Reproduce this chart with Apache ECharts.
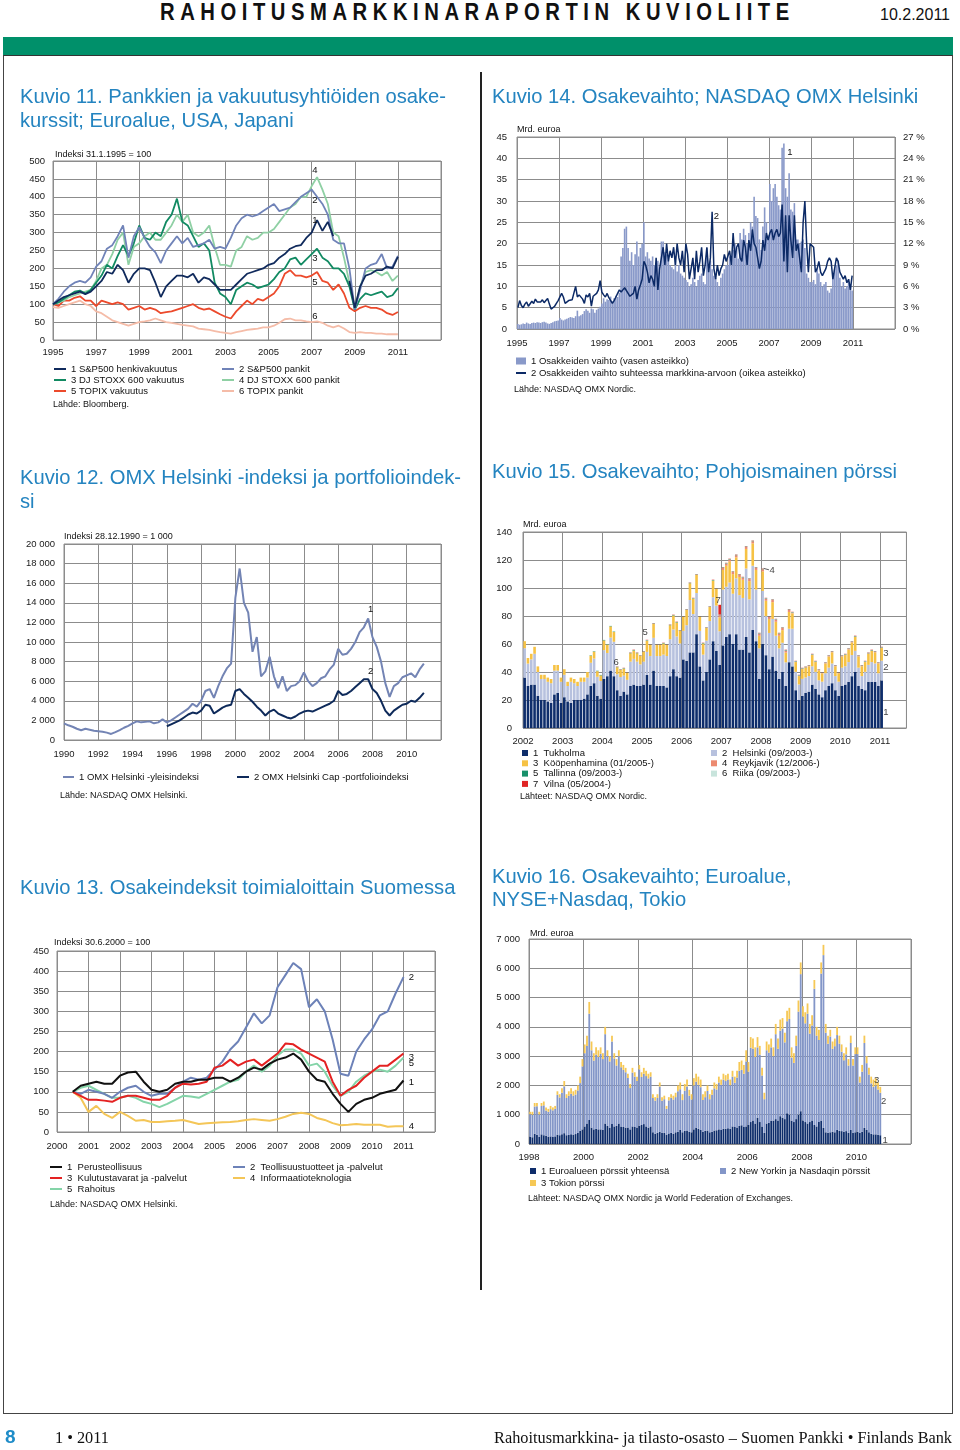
<!DOCTYPE html>
<html>
<head>
<meta charset="utf-8">
<script src="https://cdn.jsdelivr.net/npm/echarts/dist/echarts.min.js"></script>
<style>
html,body{margin:0;padding:0;background:#fff;}
#page{position:relative;width:960px;height:1450px;overflow:hidden;font-family:'Liberation Sans',Arial,sans-serif;}
#chart{position:absolute;left:0;top:0;width:960px;height:1450px;}
.abs{position:absolute;white-space:nowrap;}
.title{position:absolute;white-space:nowrap;color:#2484c0;font-size:20.2px;line-height:23.5px;}
.hdr{left:160px;top:-1px;font-weight:bold;font-size:23px;letter-spacing:6.3px;line-height:26px;color:#111;transform:scaleX(0.88);transform-origin:0 0;}
.date{left:880px;top:6px;font-size:16px;line-height:18px;color:#111;}
.green{left:3px;top:37px;width:950px;height:18px;background:#00906a;}
.frame{left:3px;top:55px;width:948px;height:1357px;border:1.5px solid #444;border-top:1.5px solid #333;}
.divider{left:480px;top:72px;width:1.5px;height:1218px;background:#222;}
.pg{left:5px;top:1426px;font-size:19px;font-weight:bold;color:#1e8cc8;line-height:22px;}
.foot{font-family:'Liberation Serif','Times New Roman',serif;font-size:16.3px;line-height:20px;color:#111;top:1428px;}
</style>
</head>
<body>
<div id="page">
  <div class="abs green"></div>
  <div class="abs frame"></div>
  <div class="abs divider"></div>
  <div class="abs hdr">RAHOITUSMARKKINARAPORTIN KUVIOLIITE</div>
  <div class="abs date">10.2.2011</div>
  <div id="chart"></div>
  <div class="title" style="left:20px;top:85px;">Kuvio 11. Pankkien ja vakuutusyhtiöiden osake-<br>kurssit; Euroalue, USA, Japani</div>
  <div class="title" style="left:492px;top:85px;">Kuvio 14. Osakevaihto; NASDAQ OMX Helsinki</div>
  <div class="title" style="left:20px;top:465px;line-height:24px;">Kuvio 12. OMX Helsinki -indeksi ja portfolioindek-<br>si</div>
  <div class="title" style="left:492px;top:460px;">Kuvio 15. Osakevaihto; Pohjoismainen pörssi</div>
  <div class="title" style="left:20px;top:876px;">Kuvio 13. Osakeindeksit toimialoittain Suomessa</div>
  <div class="title" style="left:492px;top:865px;line-height:23px;">Kuvio 16. Osakevaihto; Euroalue,<br>NYSE+Nasdaq, Tokio</div>
  <div class="abs pg">8</div>
  <div class="abs foot" style="left:55px;">1 • 2011</div>
  <div class="abs foot" style="right:8px;">Rahoitusmarkkina- ja tilasto-osasto – Suomen Pankki • Finlands Bank</div>
</div>
<script>
// ---------------- Kuvio 11 (quarterly from 1995.0) ----------------
const c11Start = 1995;
const c11Names = ['1 S&P500 henkivakuutus','2 S&P500 pankit','3 DJ STOXX 600 vakuutus','4 DJ STOXX 600 pankit','5 TOPIX vakuutus','6 TOPIX pankit'];
const c11LifeUS = [100,110,120,125, 130,135,128,135, 150,165,190,185, 210,195,160,185, 200,200,195,160, 120,150,165,180, 180,175,185,160, 175,170,155,140, 140,140,155,170, 185,190,195,200, 210,215,230,240, 255,262,265,285, 300,335,305,330, 290,null,null,165, 90,150,180,185, 195,195,205,200, 232];
const c11BankUS = [100,115,135,150, 160,165,160,175, 205,220,255,265, 290,320,230,290, 315,285,260,245, 215,250,270,290, 270,285,260,265, 270,280,255,260, 255,285,320,340, 350,345,350,360, 370,380,360,365, 370,385,400,410, 420,400,380,350, 280,270,270,200, 85,140,200,210, 215,240,200,205, 235];
const c11InsEU = [100,105,115,125, 135,138,130,140, 160,180,210,200, 235,265,235,270, 320,285,280,300, 290,330,350,395, 330,320,290,260, 270,250,160,130, 120,100,140,150, 160,155,145,150, 155,170,190,200, 225,230,210,225, 240,255,230,220, 200,200,185,150, 85,115,130,125, 130,135,120,125, 145];
const c11BankEU = [100,105,110,120, 125,130,135,140, 165,200,210,240, 280,300,210,260, 270,290,300,280, 280,300,320,350, 330,350,300,290, 300,320,260,210, 210,205,250,260, 290,280,285,300, 300,310,330,350, 370,380,400,400, 430,455,420,380, 300,290,230,160, 85,150,190,195, 190,180,190,165, 180];
const c11InsJP = [100,95,110,110, 118,122,110,110, 95,110,105,100, 105,100,85,90, 95,85,90,85, 75,78,80,85, 90,95,100,90, 85,88,80,72, 65,60,80,95, 110,100,115,110, 120,130,150,185, 195,180,180,175, 180,190,165,160, 140,155,130,90, 80,90,95,90, 90,85,75,70, 78];
const c11BankJP = [92,90,95,100, 105,110,100,95, 80,75,65,55, 50,45,40,45, 50,52,55,60, 55,50,48,45, 42,40,38,32, 30,28,25,22, 20,18,22,25, 28,30,32,35, 35,40,48,58, 60,55,55,52, 50,52,48,40, 35,40,32,22, 20,22,20,20, 18,18,16,16, 16];

// ---------------- Kuvio 14 (monthly from 1995) ----------------
const c14Start = 1995;
const c14Names = ['1 Osakkeiden vaihto (vasen asteikko)','2 Osakkeiden vaihto suhteessa markkina-arvoon (oikea asteikko)'];
const c14Turnover = [
1.2,1.0,1.1,1.3,1.2,1.5,1.3,1.2,1.4,1.5,1.4,1.6,
1.5,1.4,1.6,1.7,1.5,1.3,1.2,1.4,1.6,1.8,1.9,2.0,
2.6,2.2,2.0,2.2,2.4,2.6,2.8,2.7,2.6,3.0,4.3,3.0,
3.2,3.5,4.2,4.6,4.3,3.8,4.8,4.6,3.8,4.5,4.8,5.2,
6.0,7.2,6.4,7.0,6.8,7.6,6.5,7.2,7.8,7.5,8.5,17.0,
19.0,23.5,24.0,19.0,16.0,18.0,15.0,17.5,20.5,17.0,19.0,20.0,
25.0,17.0,18.0,16.5,16.0,17.0,15.0,14.0,16.0,13.5,20.5,20.5,
18.0,17.5,16.0,15.0,14.5,14.0,16.0,13.5,15.0,13.0,12.5,12.0,
11.5,11.0,10.0,10.5,12.0,11.0,10.0,11.5,12.5,13.0,11.0,10.5,
19.0,15.0,16.0,14.0,12.5,12.0,11.0,10.0,12.0,13.0,14.0,15.0,
15.0,17.0,16.5,18.5,20.0,19.0,16.5,22.5,21.0,23.5,22.0,20.0,
22.5,25.0,24.0,31.0,26.5,26.0,21.0,18.5,24.0,28.5,25.0,22.0,
34.0,30.0,33.0,34.0,31.0,29.0,28.0,42.5,43.5,33.0,31.0,36.5,
28.0,27.5,29.5,21.0,21.0,20.0,20.5,21.0,19.0,13.0,12.0,11.0,
11.0,11.5,10.5,14.0,13.0,11.0,10.0,10.5,11.0,9.0,8.5,9.5,
13.0,14.0,15.0,16.0,12.0,10.0,11.0,9.5,10.0,11.0,10.0,9.0];
const c14Ratio = [
3.0,4.0,3.3,3.0,3.5,3.8,3.2,3.4,3.9,3.6,4.2,3.8,
4.0,3.8,4.1,3.7,4.0,4.3,3.5,2.8,3.0,3.2,3.6,4.0,
3.8,5.0,4.5,3.6,3.8,4.0,3.9,4.1,4.0,6.0,4.5,4.8,
4.6,4.2,3.6,4.8,4.5,5.0,3.2,4.6,4.8,5.0,5.5,6.8,
5.2,4.8,4.5,5.0,4.4,4.2,3.6,4.0,4.5,5.0,5.5,5.2,
5.5,5.8,6.0,5.0,4.6,4.4,5.0,6.0,4.2,5.5,6.2,7.0,
9.5,9.0,8.0,6.5,7.5,7.0,6.0,10.0,5.5,8.5,10.0,11.5,
9.0,12.0,9.5,11.0,10.0,11.5,9.0,12.0,10.0,9.0,11.0,8.0,
12.0,10.5,7.0,8.5,10.0,7.0,11.0,8.0,9.5,11.5,7.5,9.0,
11.5,8.0,10.0,16.5,8.5,7.0,9.0,7.5,8.5,9.0,10.5,9.5,
9.5,11.0,9.0,13.5,10.0,11.5,12.0,10.0,9.5,12.5,11.5,9.0,
12.5,11.0,14.0,12.0,11.5,10.0,8.5,9.5,12.5,11.0,13.5,12.5,
13.5,14.0,12.5,13.5,14.0,13.0,13.5,17.5,9.5,16.0,8.0,16.0,
12.5,10.0,16.0,11.0,12.0,10.0,8.0,15.0,18.0,12.0,8.0,12.0,
12.0,11.5,8.0,8.5,9.5,8.0,7.5,8.0,8.5,9.5,10.0,9.5,
7.0,8.5,10.0,9.5,8.0,7.5,7.0,7.5,6.5,7.0,5.5,7.5];

// ---------------- Kuvio 12 (quarterly) ----------------
const c12Names = ['1 OMX Helsinki -yleisindeksi','2 OMX Helsinki Cap -portfolioindeksi'];
const c12GeneralStart = 1990;
const c12General = [1700,1500,1350,1150, 1000,1150,1050,950, 900,850,750,620, 800,1000,1250,1450, 1700,1900,1800,1850, 1900,1700,1800,2100, 1800,2000,2300,2600, 2900,3200,3700,3400, 4000,5000,5200,4300, 5500,6500,7300,7800, 14500,17500,14000,13000, 9000,10500,6500,7000, 8500,6500,5300,6500, 5000,5500,5600,6000, 6900,6000,5500,5800, 6300,6500,7200,7700, 9300,8700,8800,9300, 10000,11000,11500,12400, 10500,9500,8000,5800, 4400,5500,5800,6400, 6600,6800,6400,7200, 7800];
const c12CapStart = 1996;
const c12Cap = [1400,1600,1800,2000, 2300,2600,2800,2700, 3000,3600,3500,2700, 3000,3300,3500,3600, 5000,5200,4700,4300, 3900,3400,3000,2500, 2900,3100,2700,2500, 2300,2200,2400,2700, 2900,3000,2900,3100, 3300,3500,3700,4000, 5000,4600,4700,5000, 5400,5800,6200,6200, 5200,4800,4000,3000, 2500,3000,3300,3600, 3700,4000,3900,4300, 4800];

// ---------------- Kuvio 15 (monthly from 01/2002) ----------------
const c15Start = 2002;
const c15MonthSlots = 116;   // axis runs Jan 2002 .. Aug 2011
const c15Names = ['1  Tukholma','2  Helsinki (09/2003-)','3  Kööpenhamina (01/2005-)','4  Reykjavik (12/2006-)','5  Tallinna (09/2003-)','6  Riika (09/2003-)','7  Vilna (05/2004-)'];
const c15Stockholm = [
36,30,31,31,23,20,20,19,18,24,25,18,
22,19,18,20,20,20,21,24,30,32,23,21,
35,37,41,37,27,23,26,24,30,31,30,30,
31,38,31,41,30,30,30,29,37,42,37,36,
49,48,54,54,67,44,34,40,49,62,55,45,
59,65,67,60,67,56,56,65,54,70,62,35,
60,52,42,51,41,35,40,30,47,44,27,20,
23,25,26,31,28,24,22,27,30,32,27,23,
30,31,33,37,40,30,28,27,33,33,33,30,
34];
const c15Helsinki = [
21,16,18,22,17,15,15,14,14,17,16,15,
16,11,15,12,10,13,12,12,16.6,17.6,13.6,12.6,
20.6,16.6,23.6,24.6,11.4,13.4,11.4,10.4,17.4,18.4,17.4,15.4,
16.4,16.4,20.4,23.4,21.4,21.4,22.4,22.4,26.4,28.4,28.4,24.4,
20.4,25.4,37.4,27.4,29.4,25.4,18.4,22.4,27.4,31.4,32.4,24.1,
39.9,35.9,36.9,35.9,39.9,38.9,36.9,48.9,37.9,45.9,36.9,21.9,
37.9,27.9,25.9,26.9,24.9,21.9,20.9,16.9,23.9,26.9,13.1,11.1,
12.1,11.1,11.1,13.1,12.1,10.1,11.1,12.1,13.1,14.1,10.1,10.1,
13.1,13.1,14.1,15.1,15.1,13.1,9.1,13.1,12.1,14.1,13.1,9.1,
14.1];
const c15Copenhagen = [
5,4,4,5,4,3,3,3,3,4,4,3,
4,3,3,3,3,3,3,4,5,5,4,4,
7,6,8,7,5,5,5,5,6,6,6,6,
7,8,8,10,8,8,8,8,10,10,10,9,
10,11,12,11,13,10,8,9,10,12,12,10,
14,15,15,14,15,13,13,14,13,16,14,9,
14,11,10,12,10,9,9,7,12,11,7,6,
7,7,7,8,7,7,6,7,8,8,7,6,
8,8,9,9,10,8,7,7,8,8,8,7,
9];
const c15Reykjavik = [
0,0,0,0,0,0,0,0,0,0,0,0,
0,0,0,0,0,0,0,0,0,0,0,0,
0,0,0,0,0,0,0,0,0,0,0,0,
0,0,0,0,0,0,0,0,0,0,0,0,
0,0,0,0,0,0,0,0,0,0,0,1.5,
1.5,1.5,1.5,1.5,1.5,1.5,1.5,1.5,1.5,1.5,1.5,1.5,
1.5,1.5,1.5,1.5,1.5,1.5,1.5,1.5,1.5,0.5,0.3,0.3,
0.3,0.3,0.3,0.3,0.3,0.3,0.3,0.3,0.3,0.3,0.3,0.3,
0.3,0.3,0.3,0.3,0.3,0.3,0.3,0.3,0.3,0.3,0.3,0.3,
0.3];
const c15Tallinn = [
0,0,0,0,0,0,0,0,0,0,0,0,
0,0,0,0,0,0,0,0,0.3,0.3,0.3,0.3,
0.3,0.3,0.3,0.3,0.3,0.3,0.3,0.3,0.3,0.3,0.3,0.3,
0.3,0.3,0.3,0.3,0.3,0.3,0.3,0.3,0.3,0.3,0.3,0.3,
0.3,0.3,0.3,0.3,0.3,0.3,0.3,0.3,0.3,0.3,0.3,0.3,
0.3,0.3,0.3,0.3,0.3,0.3,0.3,0.3,0.3,0.3,0.3,0.3,
0.3,0.3,0.3,0.3,0.3,0.3,0.3,0.3,0.3,0.3,0.3,0.3,
0.3,0.3,0.3,0.3,0.3,0.3,0.3,0.3,0.3,0.3,0.3,0.3,
0.3,0.3,0.3,0.3,0.3,0.3,0.3,0.3,0.3,0.3,0.3,0.3,
0.3];
const c15Riga = [
0,0,0,0,0,0,0,0,0,0,0,0,
0,0,0,0,0,0,0,0,0.1,0.1,0.1,0.1,
0.1,0.1,0.1,0.1,0.1,0.1,0.1,0.1,0.1,0.1,0.1,0.1,
0.1,0.1,0.1,0.1,0.1,0.1,0.1,0.1,0.1,0.1,0.1,0.1,
0.1,0.1,0.1,0.1,0.1,0.1,0.1,0.1,0.1,0.1,0.1,0.1,
0.1,0.1,0.1,0.1,0.1,0.1,0.1,0.1,0.1,0.1,0.1,0.1,
0.1,0.1,0.1,0.1,0.1,0.1,0.1,0.1,0.1,0.1,0.1,0.1,
0.1,0.1,0.1,0.1,0.1,0.1,0.1,0.1,0.1,0.1,0.1,0.1,
0.1,0.1,0.1,0.1,0.1,0.1,0.1,0.1,0.1,0.1,0.1,0.1,
0.1];
const c15Vilnius = [
0,0,0,0,0,0,0,0,0,0,0,0,
0,0,0,0,0,0,0,0,0,0,0,0,
0,0,0,0,0.2,0.2,0.2,0.2,0.2,0.2,0.2,0.2,
0.2,0.2,0.2,0.2,0.2,0.2,0.2,0.2,0.2,0.2,0.2,0.2,
0.2,0.2,0.2,0.2,0.2,0.2,0.2,0.2,0.2,0.2,0.2,7,
0.2,0.2,0.2,0.2,0.2,0.2,0.2,0.2,0.2,0.2,0.2,0.2,
0.2,0.2,0.2,0.2,0.2,0.2,0.2,0.2,0.2,0.2,0.2,0.2,
0.2,0.2,0.2,0.2,0.2,0.2,0.2,0.2,0.2,0.2,0.2,0.2,
0.2,0.2,0.2,0.2,0.2,0.2,0.2,0.2,0.2,0.2,0.2,0.2,
0.2];

// ---------------- Kuvio 13 (quarterly from 2000.5) ----------------
const c13Start = 2000.5;
const c13Names = ['1  Perusteollisuus','2  Teollisuustuotteet ja -palvelut','3  Kulutustavarat ja -palvelut','4  Informaatioteknologia','5  Rahoitus'];
const c13Basic = [100,115, 120,125,120,120, 140,148,150,125, 105,100,105,120, 125,125,130,130, 135,135,125,135, 150,160,155,170, 180,185,195,180, 150,130,125,95, 70,50,70,80, 85,95,100,105, 128];
const c13Industrial = [100,95, 105,100,95,85, 100,110,115,100, 90,95,95,110, 125,135,130,135, 155,175,205,225, 260,295,270,290, 360,390,420,405, 310,330,300,230, 145,140,200,230, 255,290,300,345, 385];
const c13Consumer = [100,90, 80,80,78,75, 85,90,90,85, 80,80,90,110, 120,118,120,125, 160,165,180,165, 175,180,165,180, 195,220,218,205, 195,185,175,125, 90,105,115,135, 150,165,165,180, 195];
const c13IT = [100,85, 50,65,45,35, 50,40,28,30, 25,25,27,28, 30,25,20,22, 23,24,25,27, 30,32,30,28, 32,38,45,48, 45,35,30,22, 17,18,20,18, 18,18,13,14, 14];
const c13Finance = [100,110, 115,105,95,85, 85,90,85,75, 70,62,70,80, 90,88,85,95, 105,115,125,130, 150,165,150,165, 190,205,205,195, 165,170,150,115, 90,100,125,140, 150,155,150,165, 185];

// ---------------- Kuvio 16 (monthly from 01/1998) ----------------
const c16Start = 1998;
const c16MonthSlots = 168;   // axis runs Jan 1998 .. Dec 2011
const c16Names = ['1 Euroalueen pörssit yhteensä','2 New Yorkin ja Nasdaqin pörssit','3 Tokion pörssi'];
const c16Euro = [
250,230,350,320,250,330,300,280,250,260,240,260,
320,300,330,370,300,310,330,320,340,380,450,500,
600,700,820,560,500,520,500,500,480,700,620,560,
680,600,620,700,600,580,560,560,500,600,580,560,
620,650,680,600,560,600,400,350,380,420,380,380,
320,360,380,350,400,420,480,400,450,460,420,400,
500,560,520,480,420,450,460,400,420,460,470,500,
480,520,520,540,520,600,580,560,620,640,580,600,
650,750,800,700,900,750,600,380,700,720,800,800,
850,800,950,900,850,1050,1000,800,750,850,1000,1120,
800,750,700,750,800,650,600,750,800,550,400,380,
400,420,400,480,450,440,420,440,380,480,380,400,
420,380,420,550,480,400,350,330,330,320,300];
const c16NY = [
770,770,930,970,760,970,1020,860,850,930,910,940,
1360,1290,1420,1600,1270,1340,1390,1330,1350,1450,1630,2150,
2500,2650,3630,2640,2350,2530,2470,2580,2420,3050,2380,2260,
2820,2320,2060,2300,2020,1950,1890,1690,1410,1840,1720,1590,
1930,1640,1720,1720,1680,1700,1170,1130,1190,1540,1100,1150,
880,1130,1200,1170,1200,1380,1390,1100,1370,1500,1230,1120,
1500,1570,1500,1460,1080,1150,1350,1130,1260,1440,1390,1600,
1540,1680,1630,1660,1490,1700,1510,1710,1880,1890,1820,2220,
1820,2540,2450,2270,2400,2300,1740,1150,2500,2400,2500,2200,
2900,2450,2920,3040,2620,3140,3270,2150,2020,2500,3520,4680,
3550,3370,3750,3020,3250,4650,3100,2800,5020,5900,3400,3040,
3270,2830,2940,3240,2980,2710,2440,2620,2300,2970,2300,2670,
2650,1720,2050,2900,2280,1970,1720,1620,1670,1540,1450];
const c16Tokyo = [
80,100,120,110,90,100,130,110,100,110,100,100,
120,110,150,180,130,150,180,150,160,170,220,250,
300,350,400,300,250,250,230,220,200,250,200,180,
200,180,220,200,180,170,150,150,140,160,150,150,
150,160,200,180,160,150,130,120,130,140,120,120,
100,110,120,130,150,200,230,200,230,240,200,180,
250,270,280,260,200,200,190,170,170,200,190,200,
180,200,200,200,190,200,210,230,300,320,300,380,
330,360,350,330,350,300,260,220,300,280,300,300,
350,350,380,360,330,360,380,350,330,350,380,400,
350,380,350,330,350,300,300,350,380,350,300,280,
230,250,260,280,270,250,240,240,220,250,220,230,
230,200,230,250,240,230,230,250,250,240,200];

// ---------------- annotation labels (series numbers) ----------------
const c15Labels = [['1',2011.15,11.4],['2',2011.15,43.5],['3',2011.15,53.5],['4',2008.28,112.7],['5',2005.08,68],['6',2004.35,47],['7',2006.92,91]];
const c15Leader = [[2008.07,114],[2008.2,113]];
const c16Labels = [['1',2011.05,137],['2',2011.0,1468],['3',2010.74,2185]];

// ---------------- helpers ----------------
const GRIDC = '#8c8c8c';
const FONT = 'Liberation Sans';
function quarterly(start, vals){ return vals.map((v,i)=>[start + i/4, v]); }
function monthly(start, vals){ return vals.map((v,i)=>[start + (i+0.5)/12, v]); }
function monthCats(start, n){ const out=[]; for(let i=0;i<n;i++){ out.push((start+Math.floor(i/12))+'-'+String(i%12+1).padStart(2,'0')); } return out; }
function spaced(v){ return String(v).replace(/\B(?=(\d{3})+(?!\d))/g, ' '); }
function xA(gi, min, max, interval, last, margin){
  return {type:'value', gridIndex:gi, min:min, max:max, interval:interval,
    axisLine:{show:false}, axisTick:{show:false},
    splitLine:{show:true, lineStyle:{color:GRIDC, width:1}},
    axisLabel:{fontSize:9.5, color:'#1a1a1a', margin:margin, fontFamily:FONT,
      formatter: v => (Math.abs(v-Math.round(v))<1e-6 && v<=last+1e-6) ? String(Math.round(v)) : ''}};
}
function xCat(gi, cats){
  return {type:'category', gridIndex:gi, data:cats, boundaryGap:true, show:false,
    axisLine:{show:false}, axisTick:{show:false}, axisLabel:{show:false}, splitLine:{show:false}};
}
function yA(gi, min, max, interval, margin, fmt, pos, split){
  return {type:'value', gridIndex:gi, min:min, max:max, interval:interval, position:pos||'left',
    axisLine:{show:false}, axisTick:{show:false},
    splitLine:{show:split!==false, lineStyle:{color:GRIDC, width:1}},
    axisLabel:{fontSize:9.5, color:'#1a1a1a', margin:margin, fontFamily:FONT, formatter: fmt || (v=>String(v))}};
}
function ann(list){
  return {symbol:'circle', symbolSize:0, silent:true, animation:false,
    label:{show:true, position:'inside', formatter:'{b}', color:'#111', fontSize:9.5, fontFamily:FONT},
    data:list.map(a=>({name:a[0], coord:[a[1], a[2]]}))};
}
function labelSeries(list, xi, yi, leader){
  const s = {type:'scatter', xAxisIndex:xi, yAxisIndex:yi, silent:true, symbolSize:0, z:6,
    data:list.map(a=>[a[1], a[2], a[0]]),
    label:{show:true, position:'inside', formatter:p=>p.value[2], color:'#111', fontSize:9.5, fontFamily:FONT}};
  if (leader) s.markLine = {silent:true, symbol:'none', animation:false, label:{show:false},
    lineStyle:{color:'#333', width:0.8, type:'solid'},
    data:[[{coord:leader[0]},{coord:leader[1]}]]};
  return s;
}
function line(name, data, xi, yi, color, width, marks){
  const s = {type:'line', name:name, data:data, xAxisIndex:xi, yAxisIndex:yi, showSymbol:false, symbol:'none',
    connectNulls:false, lineStyle:{color:color, width:width}, itemStyle:{color:color}, z:3};
  if (marks) s.markPoint = ann(marks);
  return s;
}
function bar(name, data, xi, yi, color, width, stack, marks){
  const s = {type:'bar', name:name, data:data, xAxisIndex:xi, yAxisIndex:yi, barWidth:width,
    itemStyle:{color:color}, z:2};
  if (stack) s.stack = stack;
  if (marks) s.markPoint = ann(marks);
  return s;
}
function leg(names, left, top, w, h, gap, lh){
  return {data:names, left:left, top:top, orient:'vertical', padding:0, itemGap:gap, itemWidth:w, itemHeight:h,
    icon:'rect', selectedMode:false, textStyle:{fontSize:9.5, color:'#111', fontFamily:FONT, lineHeight:lh}};
}
function txt(x, y, s, size){
  return {type:'text', x:x, y:y, silent:true, style:{text:s, fontSize:size||9.5, fontFamily:FONT, fill:'#111', verticalAlign:'middle'}};
}

const C11 = ['#102a5c','#7083b8','#118a62','#8fd0a4','#ec4a2c','#f5bca8'];
const C15 = ['#0e2d6b','#b7c1de','#f6c244','#ec8a70','#17906a','#c8e4dc','#e02424'];
const C13 = ['#111111','#6d82b8','#e42222','#f4c658','#84d4a8'];
const C16 = ['#0e2d6b','#8396c8','#f6c855'];

const c15Px = 357/108;  // px per month in Kuvio 15
const option = {
  animation:false,
  textStyle:{fontFamily:FONT},
  grid:[
    {left:53, top:161, width:388, height:179, show:true, borderColor:GRIDC, borderWidth:1},
    {left:517, top:137, width:378, height:192, show:true, borderColor:GRIDC, borderWidth:1},
    {left:64, top:544, width:377, height:196, show:true, borderColor:GRIDC, borderWidth:1},
    {left:523, top:532, width:c15Px*c15MonthSlots, height:196, show:true, borderColor:GRIDC, borderWidth:1},
    {left:57, top:951, width:378, height:181, show:true, borderColor:GRIDC, borderWidth:1},
    {left:529, top:939, width:382, height:205, show:true, borderColor:GRIDC, borderWidth:1}
  ],
  xAxis:[
    xA(0, 1995, 2013, 2, 2011, 7),
    xA(1, 1995, 2013, 2, 2011, 9),
    xA(2, 1990, 2012, 2, 2010, 9),
    xA(3, 2002, c15Start + c15MonthSlots/12, 1, 2011, 8),
    xA(4, 2000, 2012, 1, 2011, 9),
    xA(5, 1998, c16Start + c16MonthSlots/12, 2, 2010, 8),
    xCat(3, monthCats(c15Start, c15MonthSlots)),
    xCat(5, monthCats(c16Start, c16MonthSlots))
  ],
  yAxis:[
    yA(0, 0, 500, 50, 8),
    yA(1, 0, 45, 5, 10),
    yA(1, 0, 27, 3, 8, v=>v+' %', 'right', false),
    yA(2, 0, 20000, 2000, 9, spaced),
    yA(3, 0, 140, 20, 11),
    yA(4, 0, 450, 50, 8),
    yA(5, 0, 7000, 1000, 9, spaced)
  ],
  legend:[
    leg([c11Names[0],c11Names[2],c11Names[4]], 54, 363.5, 12, 2, 0, 11),
    leg([c11Names[1],c11Names[3],c11Names[5]], 222, 363.5, 12, 2, 0, 11),
    leg([c14Names[0]], 516, 355.5, 10, 7, 0, 11),
    leg([c14Names[1]], 516, 367.5, 10, 2, 0, 11),
    leg([c12Names[0]], 63, 771.5, 11, 2, 0, 11),
    leg([c12Names[1]], 237, 771.5, 12, 2, 0, 11),
    leg([c15Names[0],c15Names[2],c15Names[4],c15Names[6]], 522, 748, 6, 6, 0.3, 10),
    leg([c15Names[1],c15Names[3],c15Names[5]], 711, 748, 6, 6, 0.3, 10),
    leg([c13Names[0],c13Names[2],c13Names[4]], 50, 1161.5, 12, 2, 0, 11),
    leg([c13Names[1],c13Names[3]], 233, 1161.5, 12, 2, 0, 11),
    leg([c16Names[0],c16Names[2]], 530, 1165.5, 6, 6, 1, 11),
    leg([c16Names[1]], 720, 1165.5, 6, 6, 1, 11)
  ],
  graphic:[
    txt(55, 155, 'Indeksi 31.1.1995 = 100', 9),
    txt(53, 405, 'Lähde: Bloomberg.', 9),
    txt(517, 130, 'Mrd. euroa', 9),
    txt(514, 390, 'Lähde: NASDAQ OMX Nordic.', 9),
    txt(64, 537, 'Indeksi 28.12.1990 = 1 000', 9),
    txt(60, 796, 'Lähde: NASDAQ OMX Helsinki.', 9),
    txt(523, 525, 'Mrd. euroa', 9),
    txt(520, 797, 'Lähteet: NASDAQ OMX Nordic.', 9),
    txt(54, 943, 'Indeksi 30.6.2000 = 100', 9),
    txt(50, 1205, 'Lähde: NASDAQ OMX Helsinki.', 9),
    txt(530, 934, 'Mrd. euroa', 9),
    txt(528, 1199, 'Lähteet: NASDAQ OMX Nordic ja World Federation of Exchanges.', 9)
  ],
  series:[
    // Kuvio 11
    line(c11Names[5], quarterly(c11Start, c11BankJP), 0, 0, C11[5], 1.8, [['6',2007.15,67]]),
    line(c11Names[4], quarterly(c11Start, c11InsJP), 0, 0, C11[4], 1.8, [['5',2007.15,162]]),
    line(c11Names[3], quarterly(c11Start, c11BankEU), 0, 0, C11[3], 1.8, [['4',2007.15,475]]),
    line(c11Names[2], quarterly(c11Start, c11InsEU), 0, 0, C11[2], 1.8, [['3',2007.15,229]]),
    line(c11Names[1], quarterly(c11Start, c11BankUS), 0, 0, C11[1], 1.8, [['2',2007.15,391]]),
    line(c11Names[0], quarterly(c11Start, c11LifeUS), 0, 0, C11[0], 1.8, [['1',2007.15,335]]),
    // Kuvio 14
    bar(c14Names[0], monthly(c14Start, c14Turnover), 1, 1, '#8999c9', 1.6, null, [['1',2008.0,41.5],['2',2004.5,26.5]]),
    line(c14Names[1], monthly(c14Start, c14Ratio), 1, 2, '#0c2a66', 1.5),
    // Kuvio 12
    line(c12Names[0], quarterly(c12GeneralStart, c12General), 2, 3, '#7384b4', 2, [['1',2007.9,13280]]),
    line(c12Names[1], quarterly(c12CapStart, c12Cap), 2, 3, '#0e2a5a', 2, [['2',2007.9,7050]]),
    // Kuvio 15 (stacked on the monthly category axis)
    bar(c15Names[0], c15Stockholm, 6, 4, C15[0], 2.6, 'n'),
    bar(c15Names[1], c15Helsinki, 6, 4, C15[1], 2.6, 'n'),
    bar(c15Names[2], c15Copenhagen, 6, 4, C15[2], 2.6, 'n'),
    bar(c15Names[3], c15Reykjavik, 6, 4, C15[3], 2.6, 'n'),
    bar(c15Names[4], c15Tallinn, 6, 4, C15[4], 2.6, 'n'),
    bar(c15Names[5], c15Riga, 6, 4, C15[5], 2.6, 'n'),
    bar(c15Names[6], c15Vilnius, 6, 4, C15[6], 2.6, 'n'),
    labelSeries(c15Labels, 3, 4, c15Leader),
    // Kuvio 13
    line(c13Names[3], quarterly(c13Start, c13IT), 4, 5, C13[3], 2, [['4',2011.25,14]]),
    line(c13Names[4], quarterly(c13Start, c13Finance), 4, 5, C13[4], 2, [['5',2011.25,171]]),
    line(c13Names[1], quarterly(c13Start, c13Industrial), 4, 5, C13[1], 2, [['2',2011.25,385]]),
    line(c13Names[2], quarterly(c13Start, c13Consumer), 4, 5, C13[2], 2, [['3',2011.25,186]]),
    line(c13Names[0], quarterly(c13Start, c13Basic), 4, 5, C13[0], 2, [['1',2011.25,123]]),
    // Kuvio 16 (stacked on the monthly category axis)
    bar(c16Names[0], c16Euro, 7, 6, C16[0], 1.8, 'w'),
    bar(c16Names[1], c16NY, 7, 6, C16[1], 1.8, 'w'),
    bar(c16Names[2], c16Tokyo, 7, 6, C16[2], 1.8, 'w'),
    labelSeries(c16Labels, 5, 6)
  ]
};
const chart = echarts.init(document.getElementById('chart'), null, {renderer:'canvas'});
chart.setOption(option);
</script>
</body>
</html>
